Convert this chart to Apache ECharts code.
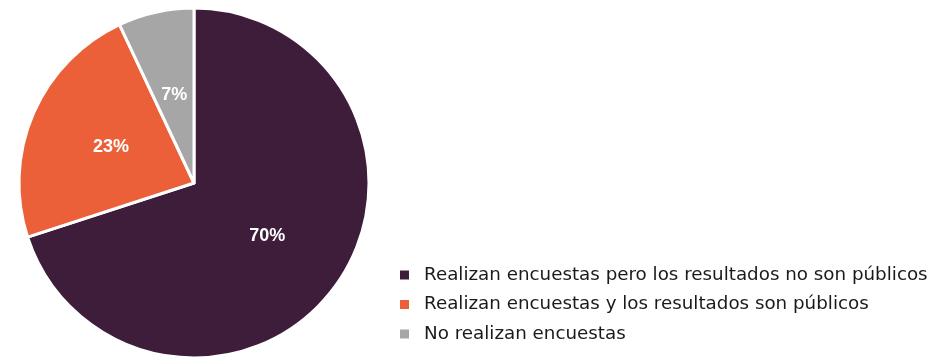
<!DOCTYPE html>
<html><head><meta charset="utf-8">
<script src="https://cdn.jsdelivr.net/npm/echarts@6/dist/echarts.min.js"></script>
<style>html,body{margin:0;padding:0;background:#fff}#c{width:931px;height:357px}</style>
</head><body><div id="c"></div>
<script>
const categories = ["Realizan encuestas pero los resultados no son públicos", "Realizan encuestas y los resultados son públicos", "No realizan encuestas"];
const values = [70, 23, 7];
const colors = ["#3D1D3A", "#EC6039", "#A6A6A6"];
const chart = echarts.init(document.getElementById('c'), null, {renderer:'canvas'});
chart.setOption({
  animation:false,
  legend:{
    orient:'vertical', left:398, top:265.5, itemWidth:11, itemHeight:11, itemGap:10.5,
    icon:'rect', padding:0,
    textStyle:{fontFamily:'DejaVu Sans', fontSize:18.3, lineHeight:19, color:'#1a1a1a', padding:[0,0,0,9]},
    data:categories
  },
  series:[{
    type:'pie', center:[194,183], radius:[0,175], startAngle:90, clockwise:true,
    itemStyle:{borderColor:'#fff', borderWidth:3},
    label:{show:true, position:'inside', formatter:'{c}%', color:'#fff', fontWeight:'bold', fontSize:18, fontFamily:'Liberation Sans'},
    labelLine:{show:false},
    data:categories.map((n,i)=>({name:n, value:values[i], itemStyle:{color:colors[i]}}))
  }]
});
</script></body></html>
